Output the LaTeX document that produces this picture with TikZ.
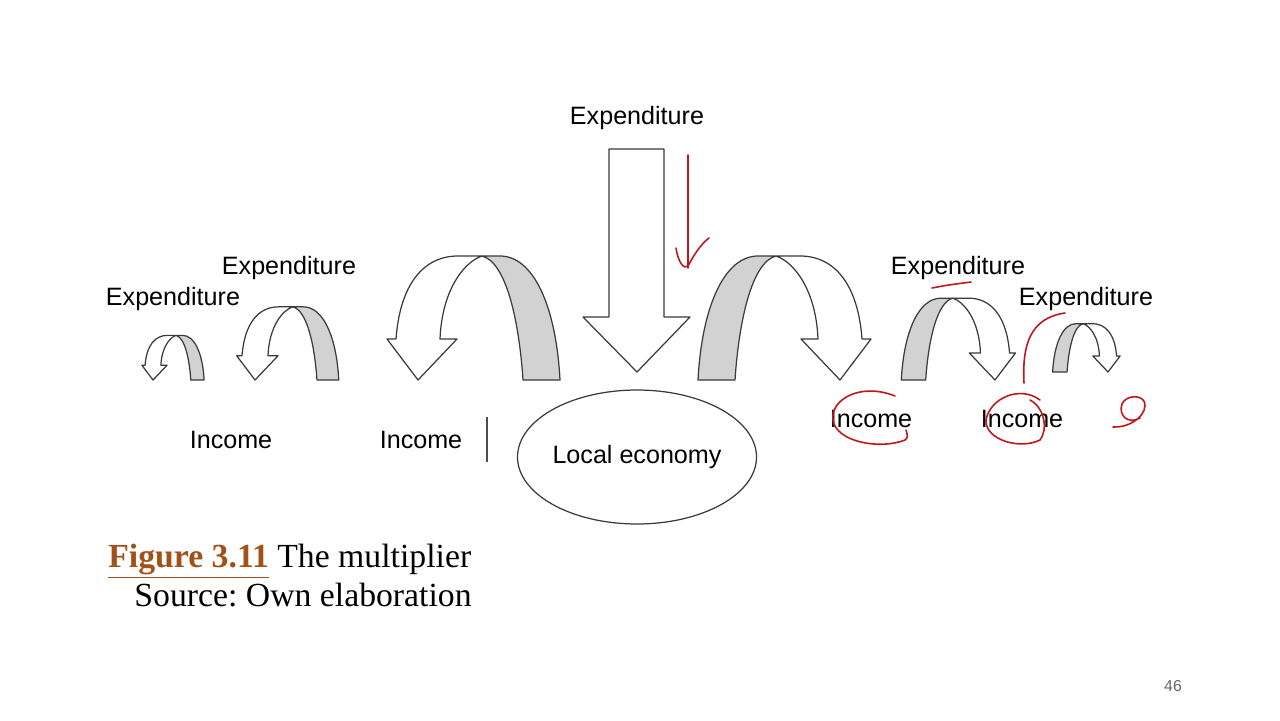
\documentclass[tikz,border=0pt]{standalone}
\usepackage{fontspec}
\setmainfont{Liberation Serif}
\setsansfont{Liberation Sans}
\usepackage{tikz}
\usetikzlibrary{positioning,shapes.geometric}
\definecolor{capbrown}{HTML}{A0521A}
\definecolor{penred}{HTML}{C0161E}
\definecolor{bandgray}{HTML}{D2D2D2}
\definecolor{lineink}{HTML}{3A3A3A}
\frenchspacing

% curled arrow, origin at the arrow tip, drawn in pixel units
\tikzset{
  curlarrow/.pic={
    \path[ink, fill=bandgray] (64,-124) .. controls (88,-118) and (101,-60) .. (105,0)
      -- (142,0) .. controls (138,-75) and (115,-124) .. (82,-124) -- cycle;
    \path[ink, fill=white] (-22,-41) .. controls (-18,-95) and (5,-124) .. (40,-124)
      -- (64,-124) .. controls (46,-118) and (24,-90) .. (22,-41)
      -- (39,-41) -- (0,0) -- (-31,-41) -- cycle;
  }
}

\begin{document}
\begin{tikzpicture}[
  x=0.02cm, y=-0.02cm,
  lbl/.style={font=\sffamily\fontsize{14.3}{16}\selectfont, inner sep=0pt},
  ink/.style={draw=lineink, line width=0.7pt, line join=round},
  pen/.style={draw=penred, line width=0.9pt, line cap=round, line join=round},
  captxt/.style={inner sep=0pt, font=\fontsize{19.2}{23}\selectfont},
]
\fill[white] (0,0) rectangle (1280,720);

% arrows
\pic[scale=0.36] at (153,380) {curlarrow};
\pic[scale=0.59] at (255,380) {curlarrow};
\pic at (418,380) {curlarrow};
\pic[xscale=-1] at (840,380) {curlarrow};
\pic[xscale=-0.66, yscale=0.66] at (995,380) {curlarrow};
\pic[xscale=-0.39, yscale=0.39] at (1108,372) {curlarrow};
\path[ink, fill=white] (609,149) -- (664,149) -- (664,317) -- (690,317)
  -- (637,372) -- (583,317) -- (609,317) -- cycle;

\node[ink, ellipse, minimum width=4.64cm, minimum height=2.68cm, inner sep=0pt,
  font=\sffamily\fontsize{14.3}{16}\selectfont] (econ) at (637,457) {Local economy};

% labels
\node[lbl] (expTop) at (637,118) {Expenditure};
\node[lbl] (expL1) at (289,268) {Expenditure};
\node[lbl] (expL2) at (173,299) {Expenditure};
\node[lbl] (expR1) at (958,268) {Expenditure};
\node[lbl] (expR2) at (1086,299) {Expenditure};
\node[lbl] (incL2) at (231,440) {Income};
\node[lbl] (incL1) at (421,440) {Income};
\node[lbl] (incR1) at (871,419) {Income};
\node[lbl] (incR2) at (1022,419) {Income};
\draw[black!70, line width=1pt] (487,417) -- (487,462);

% caption
\node[captxt, anchor=base west] (fig) at (108,567)
  {\textcolor{capbrown}{\underline{\textbf{Figure 3.11}}} The multiplier};
\node[captxt, anchor=base east] (src) at (472,606) {Source: Own elaboration};
\node[font=\sffamily\fontsize{9}{10}\selectfont, text=black!60] (pg) at (1173,686) {46};

% pen marks
\draw[pen] (688,155) -- (688,268);
\draw[pen] (676,248) .. controls (678,262) and (684,270) .. (688,266)
  .. controls (694,255) and (700,245) .. (709,238);
\draw[pen] (932,288) .. controls (948,285) .. (971,282);
\draw[pen] (1024,383) .. controls (1022,345) and (1030,318) .. (1065,313);
\draw[pen] (895,396) .. controls (860,382) and (830,400) .. (833,420)
  .. controls (836,442) and (880,450) .. (905,440) .. controls (908,437) .. (906,430);
\draw[pen] (1040,400) .. controls (1020,385) and (990,398) .. (986,420)
  .. controls (985,440) and (1020,450) .. (1040,440) .. controls (1048,430) and (1045,408) .. (1030,400);
\draw[pen] (1140,418) .. controls (1128,425) and (1118,415) .. (1122,404)
  .. controls (1126,394) and (1146,394) .. (1145,406) .. controls (1144,418) and (1128,428) .. (1113,427);
\end{tikzpicture}
\end{document}
